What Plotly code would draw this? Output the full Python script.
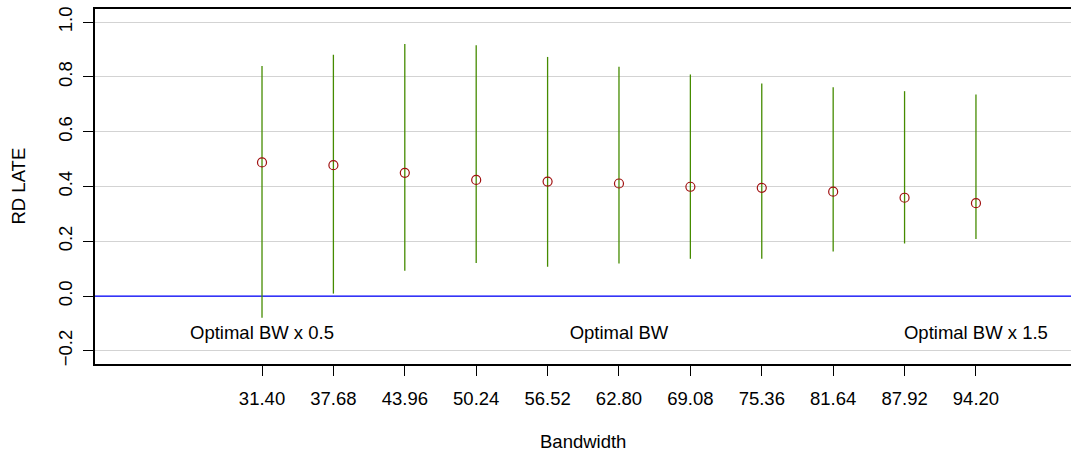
import plotly.graph_objects as go

# RD LATE estimates with confidence intervals across bandwidths
bandwidth = [31.40, 37.68, 43.96, 50.24, 56.52, 62.80, 69.08, 75.36, 81.64, 87.92, 94.20]
late = [0.488, 0.478, 0.450, 0.424, 0.418, 0.411, 0.399, 0.395, 0.381, 0.359, 0.339]
ci_low = [-0.079, 0.009, 0.092, 0.121, 0.107, 0.119, 0.136, 0.136, 0.163, 0.192, 0.208]
ci_high = [0.840, 0.881, 0.920, 0.916, 0.873, 0.837, 0.809, 0.776, 0.762, 0.748, 0.736]

y_ticks = [-0.2, 0.0, 0.2, 0.4, 0.6, 0.8, 1.0]
y_ticktext = ["\u22120.2", "0.0", "0.2", "0.4", "0.6", "0.8", "1.0"]

label_x = [31.40, 62.80, 94.20]
label_y = [-0.14, -0.14, -0.14]
label_text = ["Optimal BW x 0.5", "Optimal BW", "Optimal BW x 1.5"]

FONT = "Liberation Sans, Arial, Helvetica, sans-serif"
FS = 18.5

fig = go.Figure()

# zero reference line
fig.add_trace(go.Scatter(
    x=[0, 200], y=[0, 0], mode="lines",
    line=dict(color="#0000FF", width=1.2), hoverinfo="skip", showlegend=False,
))

# point estimates with CI whiskers
fig.add_trace(go.Scatter(
    x=bandwidth, y=late, mode="markers",
    marker=dict(symbol="circle-open", size=9, color="#A01010", line=dict(width=1.2)),
    error_y=dict(
        type="data", symmetric=False,
        array=[h - m for h, m in zip(ci_high, late)],
        arrayminus=[m - l for m, l in zip(late, ci_low)],
        width=0, thickness=1.3, color="#458B00",
    ),
    showlegend=False,
))

# bandwidth annotations
fig.add_trace(go.Scatter(
    x=label_x, y=label_y, mode="text", text=label_text,
    textposition="middle center",
    textfont=dict(family=FONT, size=FS, color="black"),
    showlegend=False, hoverinfo="skip",
))

fig.update_layout(
    width=1071, height=453,
    margin=dict(l=95, r=0, t=9, b=89),
    paper_bgcolor="white", plot_bgcolor="white",
    font=dict(family=FONT, size=FS, color="black"),
    xaxis=dict(
        range=[16.71, 102.56],
        tickvals=bandwidth,
        ticktext=[f"{b:.2f}" for b in bandwidth],
        ticks="outside", ticklen=10, tickcolor="black", tickwidth=1,
        showgrid=False, zeroline=False,
        showline=True, mirror=True, linecolor="black", linewidth=1.5,
        ticklabelstandoff=7,
    ),
    yaxis=dict(
        range=[-0.248, 1.048],
        tickvals=y_ticks, ticktext=y_ticktext, tickangle=-90,
        ticks="outside", ticklen=10, tickcolor="black", tickwidth=1,
        showgrid=True, gridcolor="#D3D3D3", gridwidth=1.2,
        zeroline=False,
        showline=True, linecolor="black", linewidth=1.5,
        ticklabelstandoff=4,
    ),
    annotations=[
        dict(text="Bandwidth", x=0.5, xref="paper", y=0, yref="paper",
             yanchor="middle", xanchor="center", yshift=-77, showarrow=False,
             font=dict(family=FONT, size=FS)),
        dict(text="RD LATE", x=0, xref="paper", y=0.5, yref="paper",
             xanchor="center", yanchor="middle", xshift=-77, textangle=-90,
             showarrow=False, font=dict(family=FONT, size=FS)),
    ],
)

fig.write_html("out.html")
